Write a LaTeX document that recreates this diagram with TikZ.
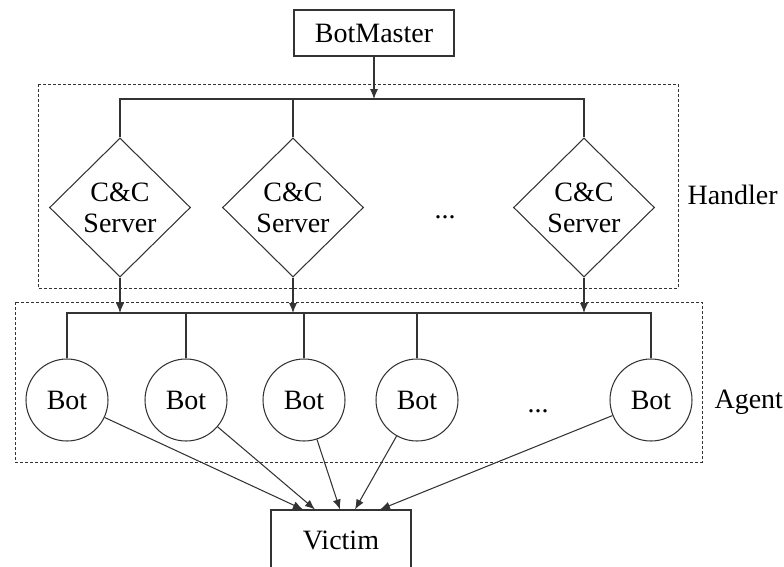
\documentclass[tikz,border=0pt]{standalone}
\usepackage{fontspec}
\setmainfont{Liberation Serif}
\usetikzlibrary{shapes.geometric,arrows.meta}
\definecolor{linegray}{HTML}{333333}
\begin{document}
\begin{tikzpicture}[x=1pt,y=-1pt,
  every node/.style={font=\fontsize{28}{31}\selectfont, text=black},
  line/.style={draw=linegray, line width=1.05pt},
  arr/.style={line, -{Latex[length=10pt,width=8pt]}},
  boxnode/.style={draw=linegray, line width=1.05pt, rectangle, inner sep=0pt},
  server/.style={draw=linegray, line width=1.05pt, diamond, aspect=1, inner sep=0pt,
    minimum width=141pt, minimum height=139pt, align=center},
  bot/.style={draw=linegray, line width=1.05pt, circle, inner sep=0pt, minimum size=82pt},
  group/.style={draw=linegray, line width=0.9pt, dash pattern=on 3pt off 2pt}]
\useasboundingbox (0,0) rectangle (784,566);

% top-level controller
\node[boxnode, minimum width=160pt, minimum height=46pt] (bm) at (374,33) {BotMaster};

% handler tier
\draw[group] (38,84) rectangle (678,288);
\node[server] (s1) at (120,207.5) {C\&C\\Server};
\node[server] (s2) at (293,207.5) {C\&C\\Server};
\node[server] (s3) at (584,207.5) {C\&C\\Server};
\node[anchor=base] (hdots) at (445,218) {...};
\node[anchor=base west] (hlabel) at (684,204) {Handler};

\coordinate (hbus) at (374,99);
\draw[arr] (bm.south) -- (hbus);
\draw[line] (s1.north) -- (s1.north |- hbus) -- (s3.north |- hbus) -- (s3.north);
\draw[line] (s2.north) -- (s2.north |- hbus);

% agent tier
\draw[group] (15,302) rectangle (702,462);
\node[bot] (b1) at (67,400) {Bot};
\node[bot] (b2) at (186,400) {Bot};
\node[bot] (b3) at (304,400) {Bot};
\node[bot] (b4) at (417,400) {Bot};
\node[bot] (b5) at (651,400) {Bot};
\node[anchor=base] (adots) at (538,412) {...};
\node[anchor=base west] (alabel) at (711,408) {Agent};

\coordinate (abus) at (0,313);
\draw[line] (b1.north) -- (b1.north |- abus) -- (b5.north |- abus) -- (b5.north);
\foreach \b in {b2,b3,b4} \draw[line] (\b.north) -- (\b.north |- abus);
\foreach \s in {s1,s2,s3} \draw[arr] (\s.south) -- (\s.south |- abus);

% target
\node[boxnode, minimum width=140pt, minimum height=60pt] (v) at (341,540) {Victim};
\coordinate (t1) at ([xshift=-38pt]v.north);
\coordinate (t2) at ([xshift=-26pt]v.north);
\coordinate (t3) at ([xshift=-1pt]v.north);
\coordinate (t4) at ([xshift=14pt]v.north);
\coordinate (t5) at ([xshift=39pt]v.north);
\draw[arr] (b1) -- (t1);
\draw[arr] (b2) -- (t2);
\draw[arr] (b3) -- (t3);
\draw[arr] (b4) -- (t4);
\draw[arr] (b5) -- (t5);
\end{tikzpicture}
\end{document}
